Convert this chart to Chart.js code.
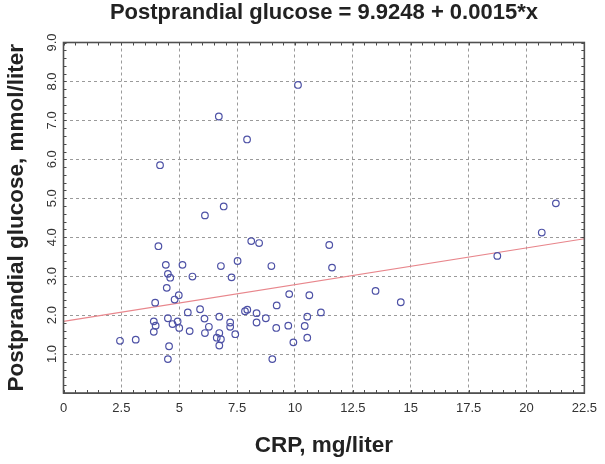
<!DOCTYPE html>
<html>
<head>
<meta charset="utf-8">
<script src="https://cdn.jsdelivr.net/npm/chart.js@4/dist/chart.umd.min.js"></script>
<style>
  html, body { margin: 0; padding: 0; background: #ffffff; }
  #wrap { width: 605px; height: 464px; }
</style>
</head>
<body>
<div id="wrap"><canvas id="c" width="605" height="464"></canvas></div>
<script>
// ---- data ----
const chartTitle = 'Postprandial glucose = 9.9248 + 0.0015*x';
const xAxisTitle = 'CRP, mg/liter';
const yAxisTitle = 'Postprandial glucose, mmol/liter';

const xTickLabels = ['0', '2.5', '5', '7.5', '10', '12.5', '15', '17.5', '20', '22.5'];
const yTickLabels = ['', '1.0', '2.0', '3.0', '4.0', '5.0', '6.0', '7.0', '8.0', '9.0'];

const crpValues = [
  6.71, 7.93, 4.17, 6.92, 6.11, 10.13,
  4.10, 8.11, 8.45, 4.42, 5.14, 4.51, 4.61, 5.57, 6.80, 7.52,
  7.26, 4.46, 4.98, 4.80, 3.96, 5.37, 5.90, 6.09, 6.73, 7.84,
  7.94, 8.34, 8.34, 3.90, 3.98, 3.90, 4.51, 4.93, 4.71, 5.00,
  5.45, 6.28, 6.11, 7.20, 7.20, 7.42, 6.62, 6.73, 6.80, 6.73,
  2.44, 3.12, 4.56, 4.51,
  8.98, 11.48, 11.60, 8.74, 9.21, 9.75, 10.62, 9.19, 9.71, 9.93,
  9.02, 10.42, 10.53, 10.53, 11.12, 13.48,
  14.57, 18.74, 20.66, 21.27
];
const glucoseValues = [
  7.10, 6.51, 5.85, 4.79, 4.56, 7.91,
  3.77, 3.90, 3.85, 3.29, 3.29, 3.06, 2.96, 2.99, 3.26, 3.39,
  2.97, 2.70, 2.51, 2.40, 2.32, 2.07, 2.15, 1.91, 1.96, 2.10,
  2.14, 2.05, 1.81, 1.84, 1.73, 1.57, 1.92, 1.84, 1.77, 1.67,
  1.59, 1.70, 1.54, 1.81, 1.70, 1.51, 1.42, 1.54, 1.38, 1.22,
  1.34, 1.37, 1.20, 0.87,
  3.26, 3.80, 3.22, 1.92, 2.25, 2.54, 2.51, 1.67, 1.73, 1.30,
  0.87, 1.72, 1.96, 1.42, 2.07, 2.62,
  2.33, 3.52, 4.12, 4.87
];

// fitted line end points
const fitX = [0, 22.5];
const fitY = [1.84, 3.96];

// ---- build chart ----
const points = crpValues.map((x, i) => ({ x: x, y: glucoseValues[i] }));
const fitLine = fitX.map((x, i) => ({ x: x, y: fitY[i] }));

Chart.defaults.font.family = '"Liberation Sans", Arial, Helvetica, sans-serif';

const frameAndMinorTicks = {
  id: 'frameAndMinorTicks',
  afterDraw(chart) {
    const { ctx, chartArea: a, scales } = chart;
    const xs = scales.x, ys = scales.y;
    ctx.save();
    ctx.strokeStyle = '#4a4a4a';
    ctx.lineWidth = 1;
    const len = 3;
    ctx.beginPath();
    for (let v = 0; v <= 22.5 + 1e-9; v += 0.5) {
      const px = Math.round(xs.getPixelForValue(v)) + 0.5;
      ctx.moveTo(px, a.bottom); ctx.lineTo(px, a.bottom - len);
      ctx.moveTo(px, a.top); ctx.lineTo(px, a.top + len);
    }
    for (let v = 0; v <= 9 + 1e-9; v += 0.2) {
      const py = Math.round(ys.getPixelForValue(v)) + 0.5;
      ctx.moveTo(a.left, py); ctx.lineTo(a.left + len, py);
      ctx.moveTo(a.right, py); ctx.lineTo(a.right - len, py);
    }
    ctx.stroke();
    ctx.lineWidth = 1.6;
    ctx.strokeStyle = '#505050';
    ctx.strokeRect(a.left, a.top, a.right - a.left, a.bottom - a.top);
    ctx.restore();
  }
};

new Chart(document.getElementById('c'), {
  type: 'scatter',
  data: {
    datasets: [
      {
        type: 'line',
        data: fitLine,
        borderColor: '#e8868c',
        borderWidth: 1.2,
        pointRadius: 0,
        fill: false,
        order: 2
      },
      {
        type: 'scatter',
        data: points,
        pointStyle: 'circle',
        pointRadius: 3.3,
        borderColor: '#4e52a6',
        backgroundColor: 'rgba(0,0,0,0)',
        borderWidth: 1.2,
        order: 1
      }
    ]
  },
  options: {
    responsive: false,
    animation: false,
    devicePixelRatio: 1,
    layout: { padding: { left: 0, right: 16, top: 0, bottom: 0 } },
    plugins: {
      legend: { display: false },
      tooltip: { enabled: false },
      title: {
        display: true,
        text: chartTitle,
        fullSize: false,
        color: '#222222',
        font: { size: 22, weight: 'bold', lineHeight: 1.0 },
        padding: { top: 2, bottom: 18.5 }
      }
    },
    scales: {
      x: {
        type: 'linear',
        min: 0,
        max: 22.5,
        ticks: {
          stepSize: 2.5,
          autoSkip: false,
          maxRotation: 0,
          padding: 8,
          color: '#333333',
          font: { size: 13 },
          callback: (v, i) => xTickLabels[i]
        },
        grid: { color: '#9a9a9a', lineWidth: 1, drawTicks: false },
        border: { display: true, color: '#505050', width: 1, dash: [3, 3] },
        title: {
          display: true,
          text: xAxisTitle,
          color: '#222222',
          font: { size: 22.5, weight: 'bold', lineHeight: 1.2 },
          padding: { top: 8, bottom: 4.4 }
        }
      },
      y: {
        type: 'linear',
        min: 0,
        max: 9,
        ticks: {
          stepSize: 1,
          autoSkip: false,
          minRotation: 90,
          maxRotation: 90,
          crossAlign: 'center',
          padding: 2,
          color: '#333333',
          font: { size: 13 },
          callback: (v, i) => yTickLabels[i]
        },
        grid: { color: '#9a9a9a', lineWidth: 1, drawTicks: false },
        border: { display: true, color: '#505050', width: 1, dash: [3, 3] },
        title: {
          display: true,
          text: yAxisTitle,
          color: '#222222',
          font: { size: 22.5, weight: 'bold', lineHeight: 1.2 },
          padding: { top: 3, bottom: 13.9 }
        }
      }
    }
  },
  plugins: [frameAndMinorTicks]
});
</script>
</body>
</html>
